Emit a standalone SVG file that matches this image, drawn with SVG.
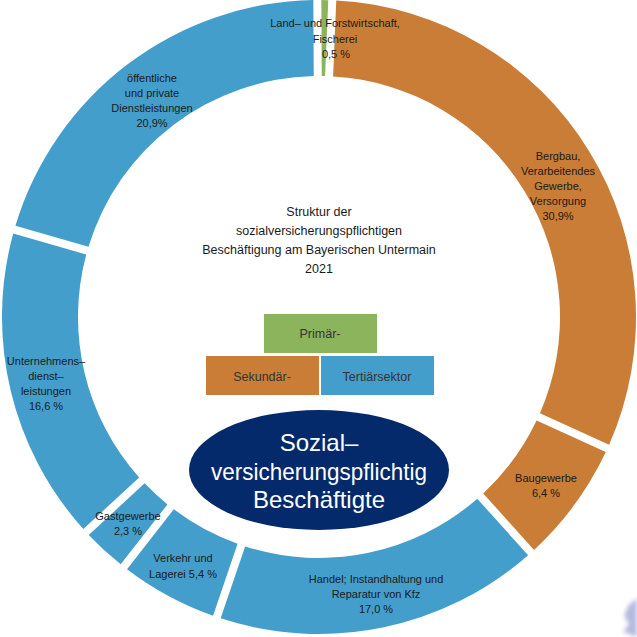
<svg xmlns="http://www.w3.org/2000/svg" width="637" height="637" viewBox="0 0 637 637">
<defs>
<style>
.prim{fill:#8cb45c}
.sek{fill:#c97d36}
.ter{fill:#449ecb}
.lbl{font-family:"Liberation Sans",Arial,sans-serif;font-size:11px;fill:#1a1a1a;text-anchor:middle}
.ttl{font-family:"Liberation Sans",Arial,sans-serif;font-size:12.5px;fill:#1a1a1a;text-anchor:middle}
.leg{font-family:"Liberation Sans",Arial,sans-serif;font-size:12.5px;fill:#333333;text-anchor:middle}
.big{font-family:"Liberation Sans",Arial,sans-serif;font-size:24px;fill:#ffffff;text-anchor:middle}
</style>
<filter id="blur" x="-50%" y="-50%" width="200%" height="200%"><feGaussianBlur stdDeviation="2"/></filter>
</defs>
<rect width="637" height="637" fill="#ffffff"/>

<g id="seg-bergbau">
<path class="sek" d="M336.27,0.47 A317,317 0 0 1 609.10,444.81 L539.93,413.29 A241,241 0 0 0 333.09,76.41 Z"/>
<text class="lbl" x="558" y="160">Bergbau,</text>
<text class="lbl" x="558" y="175">Verarbeitendes</text>
<text class="lbl" x="558" y="190">Gewerbe,</text>
<text class="lbl" x="558" y="205">Versorgung</text>
<text class="lbl" x="558" y="220">30,9%</text>
</g>

<g id="seg-bau">
<path class="sek" d="M605.78,452.09 A317,317 0 0 1 534.07,549.88 L483.21,493.40 A241,241 0 0 0 536.61,420.57 Z"/>
<text class="lbl" x="546" y="482">Baugewerbe</text>
<text class="lbl" x="546" y="497">6,4 %</text>
</g>

<g id="seg-handel">
<path class="ter" d="M528.13,555.24 A317,317 0 0 1 220.64,618.35 L245.13,546.40 A241,241 0 0 0 477.27,498.75 Z"/>
<text class="lbl" x="376" y="583">Handel; Instandhaltung und</text>
<text class="lbl" x="376" y="598">Reparatur von Kfz</text>
<text class="lbl" x="376" y="613">17,0 %</text>
</g>

<g id="seg-unternehmen">
<path class="ter" d="M83.34,529.02 A317,317 0 0 1 13.20,233.47 L86.27,254.43 A241,241 0 0 0 139.20,477.48 Z"/>
<text class="lbl" x="46" y="365">Unternehmens–</text>
<text class="lbl" x="46" y="380">dienst–</text>
<text class="lbl" x="46" y="395">leistungen</text>
<text class="lbl" x="46" y="410">16,6 %</text>
</g>

<g id="seg-verkehr">
<path class="ter" d="M213.06,615.77 A317,317 0 0 1 127.00,569.25 L173.80,509.35 A241,241 0 0 0 237.56,543.82 Z"/>
<text class="lbl" x="183" y="562">Verkehr und</text>
<text class="lbl" x="183" y="578">Lagerei 5,4 %</text>
</g>

<g id="seg-gast">
<path class="ter" d="M120.70,564.32 A317,317 0 0 1 88.76,534.90 L144.62,483.35 A241,241 0 0 0 167.49,504.42 Z"/>
<text class="lbl" x="128" y="520">Gastgewerbe</text>
<text class="lbl" x="128" y="535">2,3 %</text>
</g>

<g id="seg-oeffentlich">
<path class="ter" d="M15.41,225.78 A317,317 0 0 1 313.34,0.05 L313.74,76.06 A241,241 0 0 0 88.47,246.74 Z"/>
<text class="lbl" x="152" y="82">öffentliche</text>
<text class="lbl" x="152" y="97">und private</text>
<text class="lbl" x="152" y="112">Dienstleistungen</text>
<text class="lbl" x="152" y="127">20,9%</text>
</g>

<g id="seg-land">
<path class="prim" d="M321.34,0.01 A317,317 0 0 1 328.28,0.14 L325.09,76.08 A241,241 0 0 0 321.74,76.02 Z"/>
<text class="lbl" x="335" y="27">Land– und Forstwirtschaft,</text>
<text class="lbl" x="335" y="43">Fischerei</text>
<text class="lbl" x="336" y="58">0,5 %</text>
</g>

<g id="title">
<text class="ttl" x="319" y="216">Struktur der</text>
<text class="ttl" x="319" y="235">sozialversicherungspflichtigen</text>
<text class="ttl" x="319" y="254">Beschäftigung am Bayerischen Untermain</text>
<text class="ttl" x="319" y="273">2021</text>
</g>

<g id="legend-primaer">
<rect class="prim" x="264" y="314" width="113" height="39"/>
<text class="leg" x="320" y="338">Primär-</text>
</g>
<g id="legend-sekundaer">
<rect class="sek" x="206" y="356" width="113" height="39"/>
<text class="leg" x="262" y="381">Sekundär-</text>
</g>
<g id="legend-tertiaer">
<rect class="ter" x="321" y="356" width="113" height="39"/>
<text class="leg" x="377" y="381">Tertiärsektor</text>
</g>

<g id="center-node">
<ellipse cx="319" cy="470" rx="130" ry="60" fill="#042a6b"/>
<text class="big" x="319" y="451">Sozial–</text>
<text class="big" x="319" y="480" textLength="216" lengthAdjust="spacingAndGlyphs">versicherungspflichtig</text>
<text class="big" x="319" y="508">Beschäftigte</text>
</g>

<g id="connectors"></g>

<polygon points="637,598 628,606 624,616 629,624 623,632 637,637" fill="#9ea3d3" opacity="0.75" filter="url(#blur)"/>
</svg>
